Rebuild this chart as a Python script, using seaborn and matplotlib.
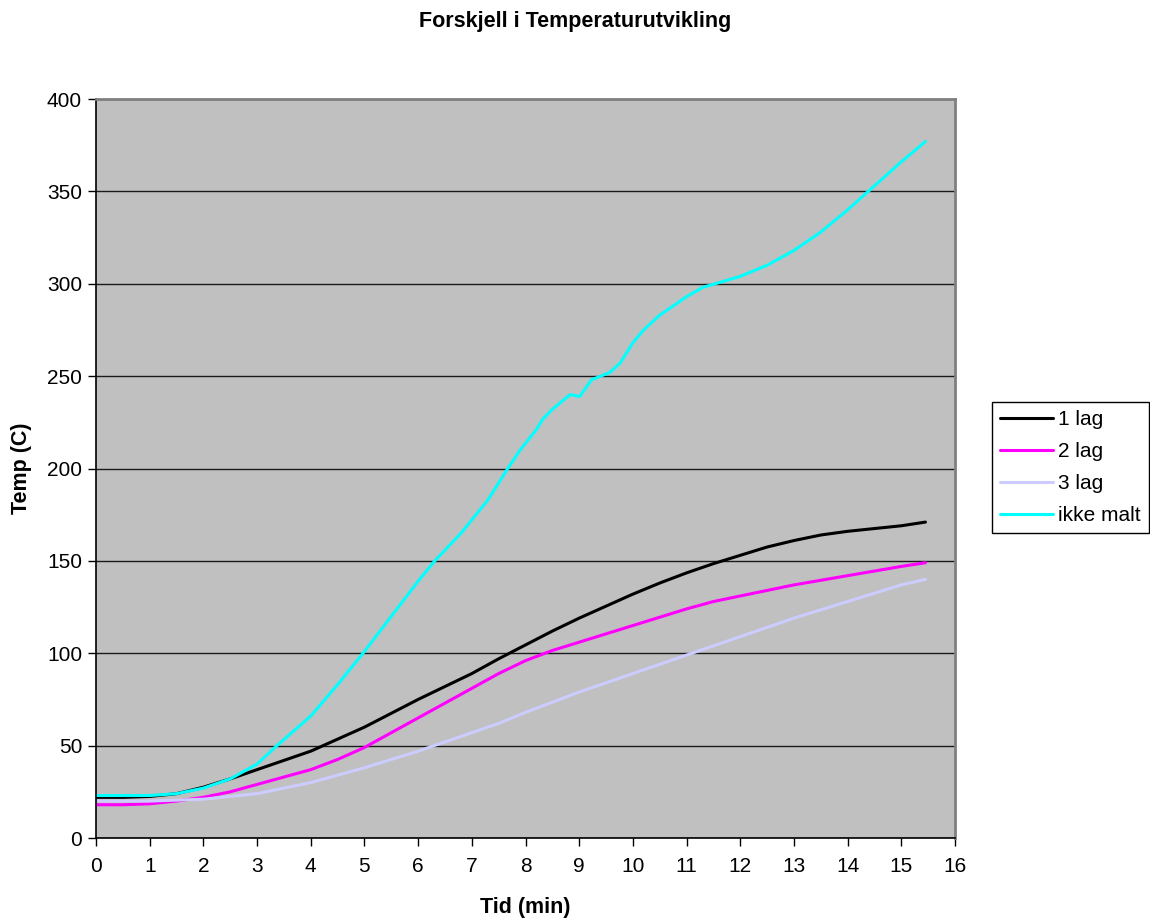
import matplotlib
matplotlib.use("Agg")
import matplotlib.pyplot as plt
import seaborn as sns
import pandas as pd

# ---- data ----
t_lag1 = [0, 0.5, 1, 1.5, 2, 2.5, 3, 3.5, 4, 4.5, 5, 5.5, 6, 6.5, 7, 7.5, 8, 8.5, 9, 9.5,
          10, 10.5, 11, 11.5, 12, 12.5, 13, 13.5, 14, 14.5, 15, 15.45]
v_lag1 = [22, 22, 22.5, 24, 27.5, 32, 37, 42, 47, 53.5, 60, 67.5, 75, 82, 89, 97, 104.5, 112,
          119, 125.5, 132, 138, 143.5, 148.5, 153, 157.5, 161, 164, 166, 167.5, 169, 171]

t_lag2 = [0, 0.5, 1, 1.5, 2, 2.5, 3, 3.5, 4, 4.5, 5, 5.5, 6, 6.5, 7, 7.5, 8, 8.5, 9, 9.5,
          10, 10.5, 11, 11.5, 12, 12.5, 13, 13.5, 14, 14.5, 15, 15.45]
v_lag2 = [18, 18, 18.5, 20, 22, 25, 29, 33, 37, 42.5, 49, 57, 65, 73, 81, 89, 96, 101.5,
          106, 110.5, 115, 119.5, 124, 128, 131, 134, 137, 139.5, 142, 144.5, 147, 149]

t_lag3 = [0, 1, 1.5, 2, 2.5, 3, 3.5, 4, 4.5, 5, 5.5, 6, 6.5, 7, 7.5, 8, 8.5, 9, 10, 11, 12,
          13, 14, 15, 15.45]
v_lag3 = [20, 20, 20.5, 21, 22.5, 24, 27, 30, 34, 38, 42.5, 47, 52, 57, 62, 68, 73.5, 79,
          89, 99, 109, 119, 128, 137, 140]

t_ikke = [0, 1, 1.5, 2, 2.5, 3, 3.37, 4, 4.5, 5, 5.5, 6, 6.31, 6.8, 7.3, 7.67, 7.9, 8.2, 8.33,
          8.5, 8.83, 9.01, 9.23, 9.57, 9.76, 10, 10.2, 10.5, 11, 11.3, 12, 12.5, 13, 13.5,
          14, 14.5, 15, 15.45]
v_ikke = [23, 23, 24, 27, 32, 40, 50, 66, 83, 101, 120, 139, 150, 165, 183, 200, 210, 221, 227,
          232, 240, 239, 248, 252, 257, 268, 275, 283, 293, 298, 304, 310, 318, 328,
          340, 353, 366, 377]

series_names = ["1 lag", "2 lag", "3 lag", "ikke malt"]
series_colors = ["#000000", "#FF00FF", "#CCCCFF", "#00FFFF"]

title = "Forskjell i Temperaturutvikling"
xlabel = "Tid (min)"
ylabel = "Temp (C)"
xticks = list(range(0, 17))
yticks = list(range(0, 401, 50))

frames = []
for name, t, v in zip(series_names, [t_lag1, t_lag2, t_lag3, t_ikke],
                      [v_lag1, v_lag2, v_lag3, v_ikke]):
    frames.append(pd.DataFrame({"Tid": t, "Temp": v, "Serie": name}))
df = pd.concat(frames, ignore_index=True)

sns.set_style("white")
plt.rcParams["font.family"] = ["Liberation Sans", "DejaVu Sans"]
plt.rcParams["text.color"] = "black"
plt.rcParams["axes.labelcolor"] = "black"

fig = plt.figure(figsize=(11.5, 9.19), dpi=100)
ax = fig.add_axes([96 / 1150, 1 - 838 / 919, (955 - 96) / 1150, (838 - 99) / 919])
ax.set_facecolor("#C0C0C0")

sns.lineplot(data=df, x="Tid", y="Temp", hue="Serie", hue_order=series_names,
             palette=dict(zip(series_names, series_colors)), linewidth=2.2,
             estimator=None, sort=True, ax=ax, legend=True)

ax.set_xlim(0, 16)
ax.set_ylim(0, 400)
ax.set_xticks(xticks)
ax.set_yticks(yticks)
ax.tick_params(axis="both", direction="out", length=6, width=1, labelsize=15,
               colors="black", bottom=True, left=True)
ax.tick_params(axis="x", pad=8)
ax.tick_params(axis="y", pad=4)
ax.yaxis.grid(True, color="#1a1a1a", linewidth=1.0)
ax.xaxis.grid(False)
ax.set_axisbelow(True)

for side in ["left", "bottom"]:
    ax.spines[side].set_color("black")
    ax.spines[side].set_linewidth(1.2)
for side in ["top", "right"]:
    ax.spines[side].set_visible(True)
    ax.spines[side].set_color("#808080")
    ax.spines[side].set_linewidth(2)

ax.set_xlabel(xlabel, fontsize=15.5, fontweight="bold", va="center")
ax.set_ylabel(ylabel, fontsize=15.5, fontweight="bold", va="center")
ax.xaxis.set_label_coords((525 - 96) / 859, (838 - 907) / 739)
ax.yaxis.set_label_coords((21 - 96) / 859, 0.5)
fig.text(0.5, 1 - 22 / 919, title, ha="center", va="center",
         fontsize=15.5, fontweight="bold", color="black")

handles, labels = ax.get_legend_handles_labels()
ax.get_legend().remove()
leg = fig.legend(handles, labels, loc="upper left",
                 bbox_to_anchor=(992 / 1150, 1 - 402 / 919), fontsize=15,
                 frameon=True, fancybox=False, framealpha=1, edgecolor="black",
                 handlelength=2.55, handletextpad=0.2, labelspacing=0.62,
                 borderpad=0.4, borderaxespad=0)
leg.get_frame().set_linewidth(1.0)
for line in leg.get_lines():
    line.set_linewidth(2.2)

fig.savefig("out.png", dpi=100)
